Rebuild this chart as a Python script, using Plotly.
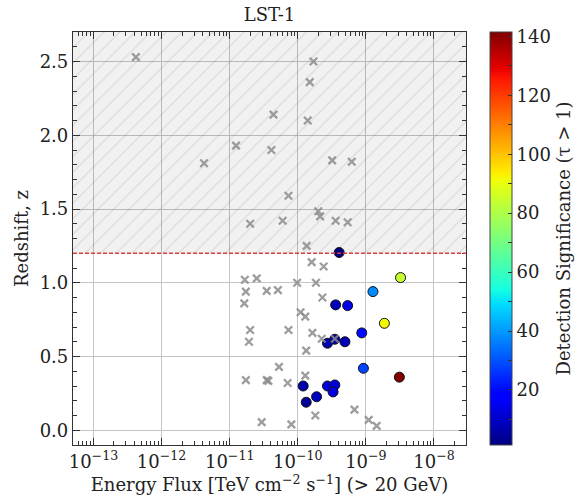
import plotly.graph_objects as go

# Sources without a significant detection (grey crosses)
undet_flux = [4.2e-13, 1.7e-10, 1.5e-10, 4.4e-11, 1.4e-10, 1.24e-11, 4.1e-11, 4.2e-12,
              3.2e-10, 6.2e-10, 7.3e-11, 2.0e-10, 2.13e-10, 2.0e-11, 6.0e-11, 3.6e-10,
              5.4e-10, 1.35e-10, 1.6e-10, 2.4e-10, 1.67e-11, 2.5e-11, 9.8e-11, 1.85e-10,
              1.73e-11, 3.5e-11, 5.1e-11, 1.64e-11, 2.3e-10, 1.1e-10, 1.29e-10, 2.0e-11,
              1.92e-11, 7.3e-11, 1.64e-10, 2.25e-10, 3.5e-10, 1.33e-10, 5.3e-11, 1.73e-11,
              3.5e-11, 3.7e-11, 7.1e-11, 1.29e-10, 1.81e-10, 6.8e-10, 2.95e-11, 8.05e-11,
              1.1e-9, 1.44e-9]
undet_z = [2.53, 2.50, 2.36, 2.14, 2.10, 1.93, 1.90, 1.81,
           1.83, 1.82, 1.59, 1.485, 1.45, 1.40, 1.42, 1.42,
           1.41, 1.25, 1.14, 1.11, 1.02, 1.03, 1.00, 1.00,
           0.94, 0.945, 0.95, 0.86, 0.90, 0.80, 0.77, 0.68,
           0.60, 0.68, 0.66, 0.62, 0.62, 0.54, 0.43, 0.34,
           0.34, 0.335, 0.32, 0.37, 0.10, 0.14, 0.055, 0.04,
           0.07, 0.03]

# Detected sources, coloured by detection significance
det_flux = [4.05e-10, 3.23e-9, 1.27e-9, 3.6e-10, 5.4e-10, 1.87e-9, 8.7e-10, 2.73e-10,
            3.5e-10, 4.93e-10, 9.2e-10, 3.1e-9, 1.2e-10, 2.73e-10, 3.5e-10, 3.3e-10,
            1.33e-10, 1.89e-10]
det_z = [1.205, 1.035, 0.94, 0.85, 0.845, 0.725, 0.66, 0.59,
         0.617, 0.60, 0.42, 0.36, 0.30, 0.30, 0.307, 0.26,
         0.19, 0.227]
det_sig = [1.3, 84, 38, 8, 14, 92, 20, 7,
           6, 8, 28, 141.5, 7, 13, 13, 13,
           4, 9]

z_limit = 1.2

x_tickvals = [1e-13, 1e-12, 1e-11, 1e-10, 1e-9, 1e-8]
x_ticktext = ["10<sup>\u221213</sup>", "10<sup>\u221212</sup>", "10<sup>\u221211</sup>",
              "10<sup>\u221210</sup>", "10<sup>\u22129</sup>", "10<sup>\u22128</sup>"]
y_tickvals = [0.0, 0.5, 1.0, 1.5, 2.0, 2.5]
y_ticktext = ["0.0", "0.5", "1.0", "1.5", "2.0", "2.5"]
cb_tickvals = [10, 20, 30, 40, 50, 60, 70, 80, 90, 100, 110, 120, 130, 140]
cb_ticktext = ["", "20", "", "40", "", "60", "", "80", "", "100", "", "120", "", "140"]

# matplotlib-style jet colormap
jet = [
    [0.0, "rgb(0,0,128)"],
    [0.11, "rgb(0,0,255)"],
    [0.125, "rgb(0,0,255)"],
    [0.34, "rgb(0,219,255)"],
    [0.35, "rgb(0,229,247)"],
    [0.375, "rgb(20,255,226)"],
    [0.64, "rgb(238,255,8)"],
    [0.65, "rgb(247,245,0)"],
    [0.66, "rgb(255,236,0)"],
    [0.89, "rgb(255,19,0)"],
    [0.91, "rgb(232,0,0)"],
    [1.0, "rgb(128,0,0)"],
]

FONT = "DejaVu Serif"
TXT = "#222222"
FS = 18

fig = go.Figure()

# hatched region above the redshift limit
fig.add_trace(go.Scatter(
    x=[10**-13.6, 10**-7.2, 10**-7.2, 10**-13.6, 10**-13.6],
    y=[z_limit, z_limit, 3.0, 3.0, z_limit],
    mode="lines", line=dict(width=0), fill="toself",
    fillcolor="rgba(0,0,0,0.05)",
    fillpattern=dict(shape="/", size=11, solidity=0.1,
                     fgcolor="rgba(0,0,0,0.2)", bgcolor="rgba(0,0,0,0.055)"),
    hoverinfo="skip", showlegend=False,
))

fig.add_shape(type="line", xref="x domain", yref="y", x0=0, x1=1, y0=z_limit, y1=z_limit,
              line=dict(color="#e03c3c", width=1.3, dash="4px,2px"), layer="above")

fig.add_trace(go.Scatter(
    x=det_flux, y=det_z, mode="markers", showlegend=False,
    marker=dict(size=10, color=det_sig, colorscale=jet, cmin=1.3, cmax=141.5,
                line=dict(color="#111111", width=1),
                colorbar=dict(
                    x=1.061, xanchor="left", xpad=0, y=0.5, yanchor="middle", ypad=0,
                    len=1.0, thickness=22, outlinewidth=1, outlinecolor="#444444",
                    tickvals=cb_tickvals, ticktext=cb_ticktext, ticks="inside",
                    ticklen=4, tickcolor="#333333",
                    tickfont=dict(family=FONT, size=FS, color=TXT),
                    title=dict(text="Detection Significance (\u03c4 > 1)", side="right",
                               font=dict(family=FONT, size=FS, color=TXT)),
                )),
))

fig.add_trace(go.Scatter(
    x=undet_flux, y=undet_z, mode="markers", showlegend=False,
    marker=dict(symbol="x-thin", size=7.5, color="rgba(140,140,140,0.85)",
                line=dict(width=2.3, color="rgba(140,140,140,0.85)")),
))

axis_common = dict(
    showline=True, linecolor="#333333", linewidth=1.2, mirror="ticks",
    ticks="inside", ticklen=7, tickcolor="#333333",
    showgrid=True, gridcolor="#c4c4c4", gridwidth=1, zeroline=False,
    tickfont=dict(family=FONT, size=FS, color=TXT),
)

fig.update_xaxes(type="log", range=[-13.3, -7.53], tickvals=x_tickvals, ticktext=x_ticktext,
                 minor=dict(ticks="inside", ticklen=4, dtick="D1", tickcolor="#333333",
                            showgrid=False),
                 title=dict(text="Energy Flux [TeV cm<sup>\u22122</sup> s<sup>\u22121</sup>] (> 20 GeV)",
                            font=dict(family=FONT, size=FS, color=TXT), standoff=4),
                 **axis_common)
fig.update_yaxes(range=[-0.1, 2.7], tickvals=y_tickvals, ticktext=y_ticktext,
                 minor=dict(ticks="inside", ticklen=4, dtick=0.1, tickcolor="#333333",
                            showgrid=False),
                 title=dict(text="Redshift, z", font=dict(family=FONT, size=FS, color=TXT),
                            standoff=6),
                 **axis_common)

fig.update_layout(
    width=586, height=500,
    margin=dict(l=73, r=108, t=32, b=48),
    paper_bgcolor="white", plot_bgcolor="white",
    title=dict(text="LST-1", x=0.5, xref="paper", xanchor="center", y=0.97, yanchor="middle",
               font=dict(family=FONT, size=FS, color=TXT)),
)

fig.write_html("out.html")
